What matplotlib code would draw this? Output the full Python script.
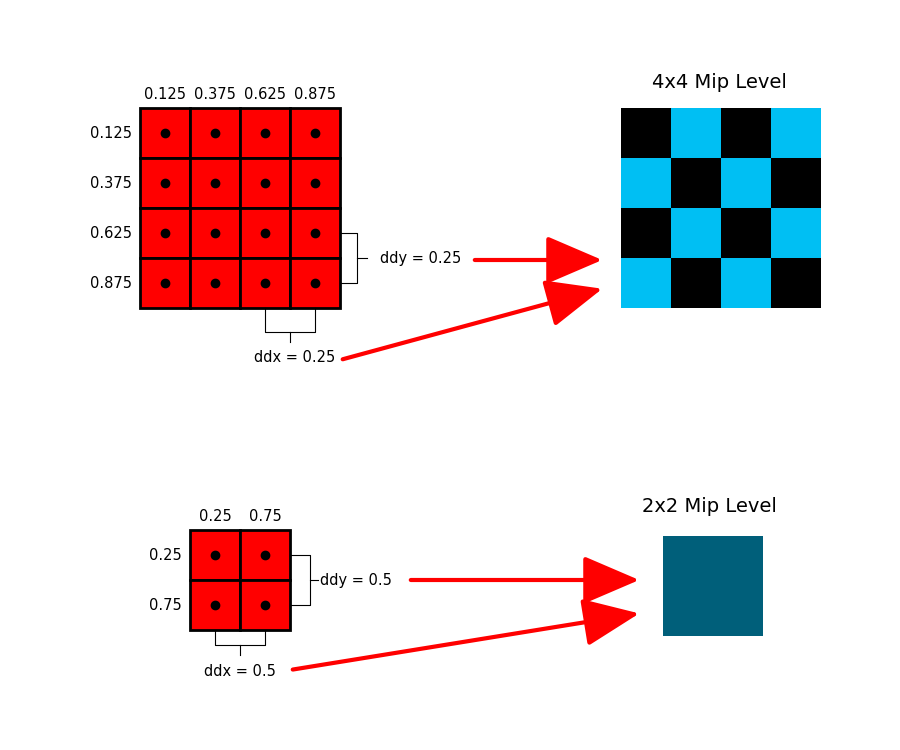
import matplotlib.pyplot as plt
from matplotlib.patches import Rectangle, FancyArrowPatch

# sample coordinates shown on the grids
coords4 = ['0.125', '0.375', '0.625', '0.875']
coords2 = ['0.25', '0.75']
# mip level pattern: 0 = black, 1 = cyan
mip4 = [[0, 1, 0, 1],
        [1, 0, 1, 0],
        [0, 1, 0, 1],
        [1, 0, 1, 0]]
mip2_color = '#005f7a'
ddy4, ddx4 = 'ddy = 0.25', 'ddx = 0.25'
ddy2, ddx2 = 'ddy = 0.5', 'ddx = 0.5'

fig = plt.figure(figsize=(9, 7.5), dpi=100)
ax = fig.add_axes([0, 0, 1, 1])
ax.set_xlim(0, 900)
ax.set_ylim(750, 0)
ax.axis('off')

fs = 10.5


def sample_grid(x0, y0, labels, cell=50):
    n = len(labels)
    for i in range(n):
        for j in range(n):
            ax.add_patch(Rectangle((x0 + j * cell, y0 + i * cell), cell, cell,
                                   facecolor='#ff0000', edgecolor='black', lw=2))
            ax.plot(x0 + j * cell + cell / 2, y0 + i * cell + cell / 2, 'o',
                    color='black', ms=6)
    for k, lab in enumerate(labels):
        ax.text(x0 + k * cell + cell / 2, y0 - 6, lab, ha='center', va='bottom', fontsize=fs)
        ax.text(x0 - 8, y0 + k * cell + cell / 2, lab, ha='right', va='center', fontsize=fs)


def arrow(x1, y1, x2, y2):
    ax.add_patch(FancyArrowPatch((x1, y1), (x2, y2), arrowstyle='-|>,head_length=14,head_width=6',
                                 color='#ff0000', lw=3, mutation_scale=2.5))


# 4x4
sample_grid(140, 108, coords4)
ax.plot([340, 357, 357, 340], [233, 233, 283, 283], color='black', lw=0.8)
ax.plot([357, 367], [258, 258], color='black', lw=0.8)
ax.text(380, 258, ddy4, va='center', fontsize=fs)
ax.plot([265, 265, 315, 315], [308, 332, 332, 308], color='black', lw=0.8)
ax.plot([290, 290], [332, 342], color='black', lw=0.8)
ax.text(295, 358, ddx4, ha='center', va='center', fontsize=fs)
arrow(472, 260, 605, 260)
arrow(340, 360, 605, 288)
for i, row in enumerate(mip4):
    for j, v in enumerate(row):
        ax.add_patch(Rectangle((621 + j * 50, 108 + i * 50), 50, 50,
                               facecolor='#00bff3' if v else 'black', lw=0))
ax.text(719, 83, '4x4 Mip Level', ha='center', va='center', fontsize=14)

# 2x2
sample_grid(190, 530, coords2)
ax.plot([290, 310, 310, 290], [555, 555, 605, 605], color='black', lw=0.8)
ax.plot([310, 318], [580, 580], color='black', lw=0.8)
ax.text(320, 580, ddy2, va='center', fontsize=fs)
ax.plot([215, 215, 265, 265], [630, 645, 645, 630], color='black', lw=0.8)
ax.plot([240, 240], [645, 655], color='black', lw=0.8)
ax.text(240, 672, ddx2, ha='center', va='center', fontsize=fs)
arrow(408, 580, 642, 580)
arrow(290, 670, 642, 613)
ax.add_patch(Rectangle((663, 536), 100, 100, facecolor=mip2_color, lw=0))
ax.text(709, 507, '2x2 Mip Level', ha='center', va='center', fontsize=14)

fig.savefig('out.png', dpi=100)
